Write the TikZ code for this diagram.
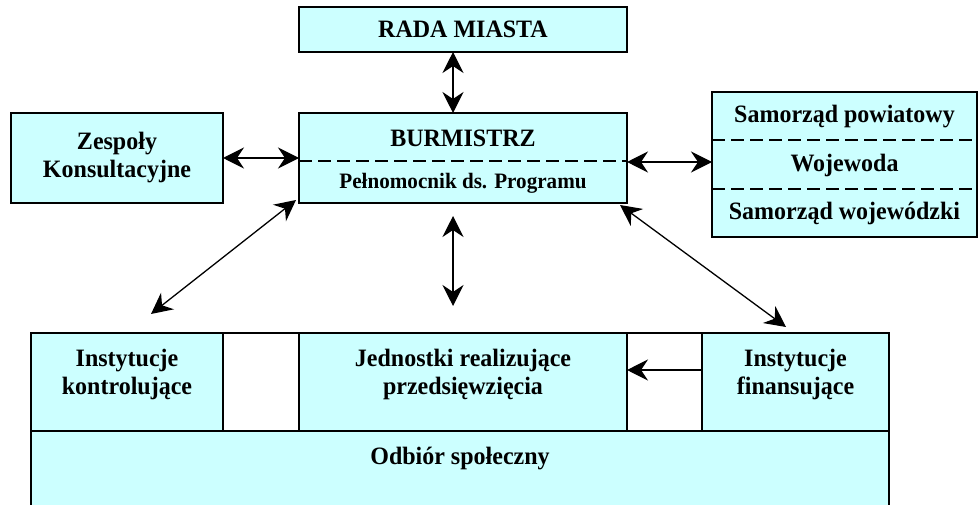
\documentclass[tikz,border=0pt]{standalone}
\usepackage{fontspec}
\setmainfont{Liberation Serif}[FakeStretch=0.96]
\usetikzlibrary{arrows.meta, positioning}
\definecolor{cellcyan}{HTML}{CCFFFF}
\tikzset{
  box/.style={rectangle,draw,fill=cellcyan,line width=2pt,outer sep=0pt,inner sep=0pt,align=center,font=\fontsize{25}{28}\selectfont\bfseries},
  gapbox/.style={rectangle,draw,fill=white,line width=2pt,outer sep=0pt,inner sep=0pt},
  txt/.style={align=center,inner sep=0pt,font=\fontsize{25}{28}\selectfont\bfseries},
  small/.style={txt,font=\fontsize{22}{24}\selectfont\bfseries},
  divider/.style={dash pattern=on 13pt off 6pt,line width=2pt},
  line/.style={{Stealth[length=21pt,width=21pt,inset=7pt]}-{Stealth[length=21pt,width=21pt,inset=7pt]},line width=1.3pt},
  oneway/.style={-{Stealth[length=21pt,width=21pt,inset=7pt]},line width=1.3pt}
}

\begin{document}
\begin{tikzpicture}[x=1pt,y=1pt]
\clip (0,0) rectangle (979,504);
% upper part
\node[box, minimum width=328pt, minimum height=45pt] (rada) at (463,474.5) {RADA MIASTA};
\node[box, minimum width=328pt, minimum height=90pt] (burm) at (463,346) {};
\node[txt] (burmName) at (463,365.5) {BURMISTRZ};
\node[small] (pelnom) at (463,321) {Pełnomocnik ds. Programu};
\draw[divider] ([yshift=-3pt]burm.west) -- ([yshift=-3pt]burm.east);
\node[box, minimum width=212pt, minimum height=90pt] (zesp) at (117,346) {Zespoły\\Konsultacyjne};
\node[box, minimum width=265pt, minimum height=145pt] (samorz) at (844.5,339.5) {};
\node[txt] (woj) at ([yshift=-1pt]samorz.center) {Wojewoda};
\node[txt] (powiat) at ([yshift=48.3pt]samorz.center) {Samorząd powiatowy};
\node[txt] (wojew) at ([yshift=-49pt]samorz.center) {Samorząd wojewódzki};
\draw[divider] ([yshift=24.2pt]samorz.west) -- ([yshift=24.2pt]samorz.east);
\draw[divider] ([yshift=-24.2pt]samorz.west) -- ([yshift=-24.2pt]samorz.east);
% lower part
\node[box, minimum width=192pt, minimum height=98pt] (kontrol) at (127,122) {};
\node[gapbox, minimum width=76pt, minimum height=98pt, right=0pt of kontrol] (gapA) {};
\node[box, minimum width=328pt, minimum height=98pt, right=0pt of gapA] (jedn) {};
\node[gapbox, minimum width=75pt, minimum height=98pt, right=0pt of jedn] (gapB) {};
\node[box, minimum width=187pt, minimum height=98pt, right=0pt of gapB] (finans) {};
\node[box, minimum width=858pt, minimum height=110pt, anchor=north west] (odbior) at (kontrol.south west) {};
\node[txt] (kontrolTxt) at ([yshift=8pt]kontrol.center) {Instytucje\\kontrolujące};
\node[txt] (jednTxt) at ([yshift=8pt]jedn.center) {Jednostki realizujące\\przedsięwzięcia};
\node[txt] (finansTxt) at ([yshift=8pt]finans.center) {Instytucje\\finansujące};
\node[txt] (odbiorTxt) at ([yshift=-28pt]odbior.north) {Odbiór społeczny};
% free ends of the arrows
\coordinate (kontrolIn) at ([shift={(24pt,19pt)}]kontrol.north);
\coordinate (jednIn) at ([shift={(-10pt,27pt)}]jedn.north);
\coordinate (finansIn) at ([shift={(-9.5pt,6pt)}]finans.north);
\coordinate (burmSW) at ([shift={(-3pt,3pt)}]burm.south west);
\coordinate (burmS) at ([shift={(-10pt,-13pt)}]burm.south);
\coordinate (burmSE) at ([shift={(-7pt,-2pt)}]burm.south east);
\draw[line] ([xshift=-10pt]rada.south) -- ([xshift=-10pt]burm.north);
\draw[line] (zesp.east) -- (burm.west);
\draw[line] ([yshift=-4pt]burm.east) -- ([yshift=2.5pt]samorz.west);
\draw[line] (burmSW) -- (kontrolIn);
\draw[line] (burmS) -- (jednIn);
\draw[line] (burmSE) -- (finansIn);
\draw[oneway] ([yshift=12pt]finans.west) -- ([yshift=12pt]jedn.east);
\end{tikzpicture}
\end{document}
